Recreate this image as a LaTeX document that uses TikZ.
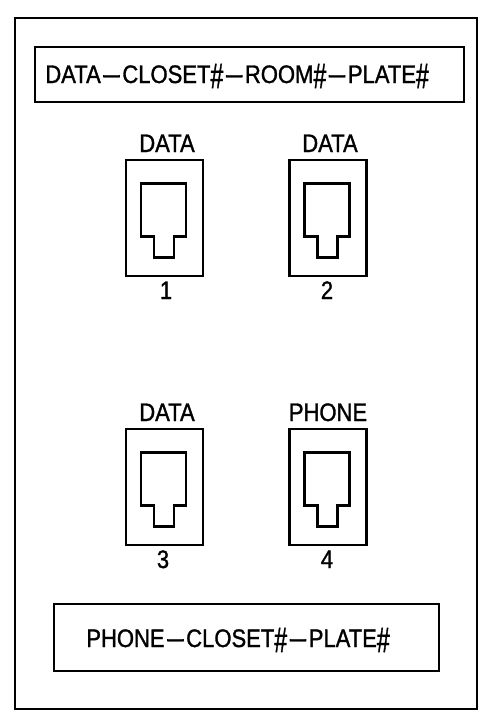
\documentclass[tikz,border=0pt]{standalone}
\usepackage{fontspec}
\setmainfont[FakeStretch=0.87,FakeBold=1.2]{Liberation Sans}
\usetikzlibrary{calc}

\newcommand{\dsh}{\scalebox{2.95}[1]{-}}
\newcommand{\hsh}{\raisebox{-0.2em}{\scalebox{1.05}[1.4]{\#}}}

\tikzset{
	outline/.style={draw,line width=1.3pt,minimum width=0,inner sep=0pt},
	plate/.style={outline,minimum width=1.54cm,minimum height=2.32cm},
	tag/.style={inner sep=0pt,font=\fontsize{14.4}{16}\selectfont,anchor=base},
	platetext/.style={tag,anchor=base west}
}

\begin{document}
\begin{tikzpicture}[x=0.02cm,y=-0.02cm]
	\useasboundingbox (0,0) rectangle (484,720);
	\node[outline,minimum width=9.24cm,minimum height=13.82cm] (cover) at (246,363.5) {};
	\node[outline,minimum width=8.58cm,minimum height=1.1cm] (databox) at (249.5,74.5) {};
	\node[outline,minimum width=7.7cm,minimum height=1.34cm] (phonebox) at (246.5,637.5) {};
	\node[platetext] (datatext) at (45,83) {DATA\dsh CLOSET\hsh\dsh ROOM\hsh\dsh PLATE\hsh};
	\node[platetext] (phonetext) at (86,647) {PHONE\dsh CLOSET\hsh\dsh PLATE\hsh};

	\foreach \n/\px/\py/\kind/\kx/\ky/\nx/\ny in {
		1/164.5/218/DATA/167/152/166/299,
		2/328/218/DATA/330/152/327/299,
		3/164.5/487/DATA/167/421/163/568,
		4/328/487/PHONE/328/421/327/568}
	{
		\node[plate] (plate\n) at (\px,\py) {};
		\node[tag] (kind\n) at (\kx,\ky) {\kind};
		\node[tag] (num\n) at (\nx,\ny) {\n};
		\draw[line width=1.3pt,line join=miter]
			($(plate\n.north west)+(16,24.5)$) -- ++(45,0) -- ++(0,53) -- ++(-12,0)
			-- ++(0,21) -- ++(-20,0) -- ++(0,-21) -- ++(-13,0) -- cycle;
	}
\end{tikzpicture}
\end{document}
